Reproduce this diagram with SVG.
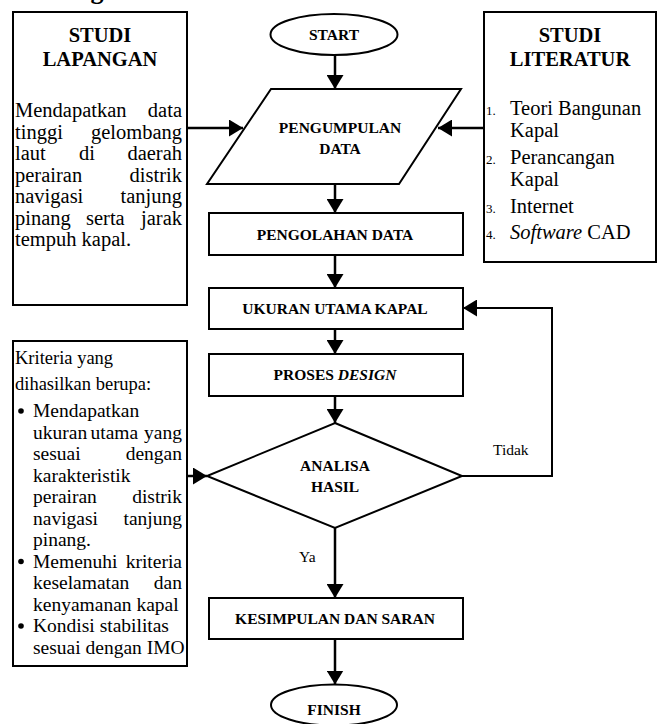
<svg xmlns="http://www.w3.org/2000/svg" width="666" height="724" viewBox="0 0 666 724">
<style>
text{font-family:"Liberation Serif","Times New Roman",serif;fill:#000}
.shape{fill:#fff;stroke:#000;stroke-width:2}
.node{font-size:15.5px;font-weight:bold;text-anchor:middle}
.head{font-size:20.5px;font-weight:bold;text-anchor:middle}
.body{font-size:20.5px}
.bl{font-size:19.5px}
.small{font-size:13px}
.end{text-anchor:end}
.lbl{font-size:15.5px}
.conn{fill:none;stroke:#000;stroke-width:2.5}
.thin{stroke-width:2}
</style>
<defs>
<marker id="arr" viewBox="0 0 14 17" refX="14" refY="8.5" markerWidth="14" markerHeight="17" markerUnits="userSpaceOnUse" orient="auto">
<path d="M0,0 L14,8.5 L0,17 z" fill="#000"/>
</marker>
</defs>

<text x="97" y="-1" class="head" style="font-size:26px">g</text>

<g id="studi-lapangan">
<rect class="shape" x="13" y="12" width="174" height="293"/>
<text class="head" x="100" y="42">STUDI</text>
<text class="head" x="100" y="66">LAPANGAN</text>
<g class="body">
<text x="15" y="117">Mendapatkan</text><text x="182" y="117" class="end">data</text>
<text x="15" y="138.5">tinggi</text><text x="182" y="138.5" class="end">gelombang</text>
<text x="15" y="160">laut</text><text x="79" y="160">di</text><text x="182" y="160" class="end">daerah</text>
<text x="15" y="181.5">perairan</text><text x="182" y="181.5" class="end">distrik</text>
<text x="15" y="203">navigasi</text><text x="182" y="203" class="end">tanjung</text>
<text x="15" y="224.5">pinang</text><text x="86" y="224.5">serta</text><text x="182" y="224.5" class="end">jarak</text>
<text x="15" y="246">tempuh kapal.</text>
</g>
</g>

<g id="studi-literatur">
<rect class="shape" x="484" y="12" width="172" height="250"/>
<text class="head" x="570" y="42">STUDI</text>
<text class="head" x="570" y="66">LITERATUR</text>
<g class="body">
<text x="486" y="115" class="small">1.</text><text x="510" y="115">Teori Bangunan</text>
<text x="510" y="137">Kapal</text>
<text x="486" y="164" class="small">2.</text><text x="510" y="164">Perancangan</text>
<text x="510" y="186">Kapal</text>
<text x="486" y="213" class="small">3.</text><text x="510" y="213">Internet</text>
<text x="486" y="239" class="small">4.</text><text x="510" y="239"><tspan font-style="italic">Software</tspan> CAD</text>
</g>
</g>

<g id="kriteria">
<rect class="shape" x="13" y="341" width="174" height="325"/>
<text x="15" y="364" style="font-size:18.5px">Kriteria yang</text>
<text x="15" y="390" style="font-size:18.5px">dihasilkan berupa:</text>
<g class="bl">
<circle cx="21" cy="411" r="2.8"/>
<text x="33" y="417">Mendapatkan</text>
<text x="33" y="438.5">ukuran</text><text x="90.5" y="438.5">utama</text><text x="182" y="438.5" class="end">yang</text>
<text x="33" y="460">sesuai</text><text x="182" y="460" class="end">dengan</text>
<text x="33" y="481.5">karakteristik</text>
<text x="33" y="503">perairan</text><text x="182" y="503" class="end">distrik</text>
<text x="33" y="524.5">navigasi</text><text x="182" y="524.5" class="end">tanjung</text>
<text x="33" y="546">pinang.</text>
<circle cx="21" cy="561.5" r="2.8"/>
<text x="33" y="567.5">Memenuhi</text><text x="182" y="567.5" class="end">kriteria</text>
<text x="33" y="589">keselamatan</text><text x="182" y="589" class="end">dan</text>
<text x="33" y="610.5">kenyamanan kapal</text>
<circle cx="21" cy="626" r="2.8"/>
<text x="33" y="632">Kondisi stabilitas</text>
<text x="33" y="653.5">sesuai dengan IMO</text>
</g>
</g>

<g id="start">
<ellipse class="shape" cx="334" cy="34.5" rx="63.5" ry="20.5"/>
<text class="node" x="334" y="40">START</text>
</g>

<g id="pengumpulan-data">
<polygon class="shape" points="271,89 461,89 399,184 207,184"/>
<text class="node" x="340" y="133">PENGUMPULAN</text>
<text class="node" x="340" y="154">DATA</text>
</g>

<g id="pengolahan-data">
<rect class="shape" x="209" y="213" width="254" height="42"/>
<text class="node" x="335" y="240">PENGOLAHAN DATA</text>
</g>

<g id="ukuran-utama">
<rect class="shape" x="209" y="288" width="254" height="41"/>
<text class="node" x="335" y="314">UKURAN UTAMA KAPAL</text>
</g>

<g id="proses-design">
<rect class="shape" x="209" y="354" width="254" height="42"/>
<text class="node" x="335" y="380">PROSES <tspan font-style="italic">DESIGN</tspan></text>
</g>

<g id="analisa-hasil">
<polygon class="shape" points="335,423 462,476 335,528 207,476"/>
<text class="node" x="335" y="471">ANALISA</text>
<text class="node" x="335" y="492">HASIL</text>
</g>

<g id="kesimpulan">
<rect class="shape" x="209" y="598" width="254" height="41"/>
<text class="node" x="335" y="624">KESIMPULAN DAN SARAN</text>
</g>

<g id="finish">
<ellipse class="shape" cx="334" cy="705" rx="63" ry="20.5"/>
<text class="node" x="334" y="715">FINISH</text>
</g>

<g id="connectors">
<line class="conn" x1="335" y1="55" x2="335" y2="89" marker-end="url(#arr)"/>
<line class="conn" x1="187" y1="128" x2="243" y2="128" marker-end="url(#arr)"/>
<line class="conn" x1="484" y1="128" x2="438" y2="128" marker-end="url(#arr)"/>
<line class="conn" x1="335" y1="184" x2="335" y2="213" marker-end="url(#arr)"/>
<line class="conn" x1="335" y1="255" x2="335" y2="288" marker-end="url(#arr)"/>
<line class="conn" x1="335" y1="329" x2="335" y2="354" marker-end="url(#arr)"/>
<line class="conn" x1="335" y1="396" x2="335" y2="423" marker-end="url(#arr)"/>
<line class="conn" x1="187" y1="476" x2="207" y2="476" marker-end="url(#arr)"/>
<polyline class="conn thin" points="462,476 552,476 552,308 463,308" marker-end="url(#arr)"/>
<line class="conn" x1="335" y1="528" x2="335" y2="598" marker-end="url(#arr)"/>
<line class="conn" x1="335" y1="639" x2="335" y2="684.5" marker-end="url(#arr)"/>
<text class="lbl" x="493" y="455">Tidak</text>
<text class="lbl" x="299" y="562">Ya</text>
</g>
</svg>
